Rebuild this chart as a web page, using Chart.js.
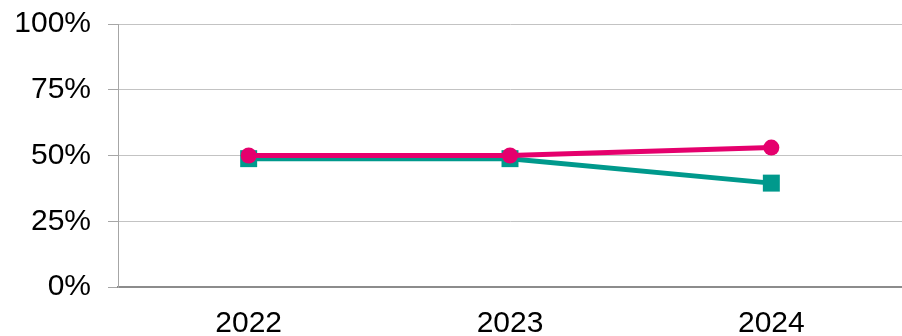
<!DOCTYPE html>
<html>
<head>
<meta charset="utf-8">
<script src="https://cdn.jsdelivr.net/npm/chart.js@4"></script>
<style>
  html, body { margin: 0; padding: 0; background: #ffffff; overflow: hidden; }
  #wrap { width: 902px; height: 336px; position: relative; }
  #chart { display: block; }
</style>
</head>
<body>
<div id="wrap"><canvas id="chart"></canvas></div>
<script>
// chart data
const years = ['2022', '2023', '2024'];
const pinkValues = [50, 50, 53];
const tealValues = [48.8, 48.8, 39.5];
const yTicks = [0, 25, 50, 75, 100];

const pink = '#e5006d';
const teal = '#00998c';

new Chart(document.getElementById('chart'), {
    type: 'line',
    data: {
        labels: years,
        datasets: [
            {
                label: 'Pink',
                data: pinkValues,
                borderColor: pink,
                backgroundColor: pink,
                borderWidth: 5,
                pointStyle: 'circle',
                pointRadius: 8,
                pointBorderWidth: 0,
                tension: 0
            },
            {
                label: 'Teal',
                data: tealValues,
                borderColor: teal,
                backgroundColor: teal,
                borderWidth: 5,
                pointStyle: 'rect',
                pointRadius: 12,
                pointBorderWidth: 0,
                tension: 0
            }
        ]
    },
    options: {
        responsive: true,
        maintainAspectRatio: false,
        animation: false,
        layout: { autoPadding: false, padding: { top: 24, right: 0, left: 0, bottom: 0 } },
        plugins: {
            legend: { display: false },
            tooltip: { enabled: false }
        },
        scales: {
            x: {
                offset: true,
                grid: { display: false, drawTicks: false },
                border: { display: true, color: '#8c8c8c', width: 2 },
                ticks: {
                    padding: 19,
                    color: '#000000',
                    font: { family: '"Liberation Sans", Arial, sans-serif', size: 30 }
                },
                afterFit: (scale) => {
                    scale.height = 49;
                    scale.paddingLeft = 0;
                    scale.paddingRight = 0;
                }
            },
            y: {
                min: 0,
                max: 100,
                afterBuildTicks: (scale) => {
                    scale.ticks = yTicks.map(v => ({ value: v }));
                },
                grid: {
                    color: '#c3c3c3',
                    lineWidth: 1,
                    tickLength: 10,
                    tickColor: '#a6a6a6'
                },
                border: { display: true, color: '#a6a6a6', width: 1 },
                ticks: {
                    padding: 17,
                    color: '#000000',
                    font: { family: '"Liberation Sans", Arial, sans-serif', size: 30 },
                    callback: (v) => v + '%'
                },
                afterFit: (scale) => {
                    scale.width = 118;
                    scale.paddingTop = 0;
                    scale.paddingBottom = 0;
                }
            }
        }
    }
});
</script>
</body>
</html>
